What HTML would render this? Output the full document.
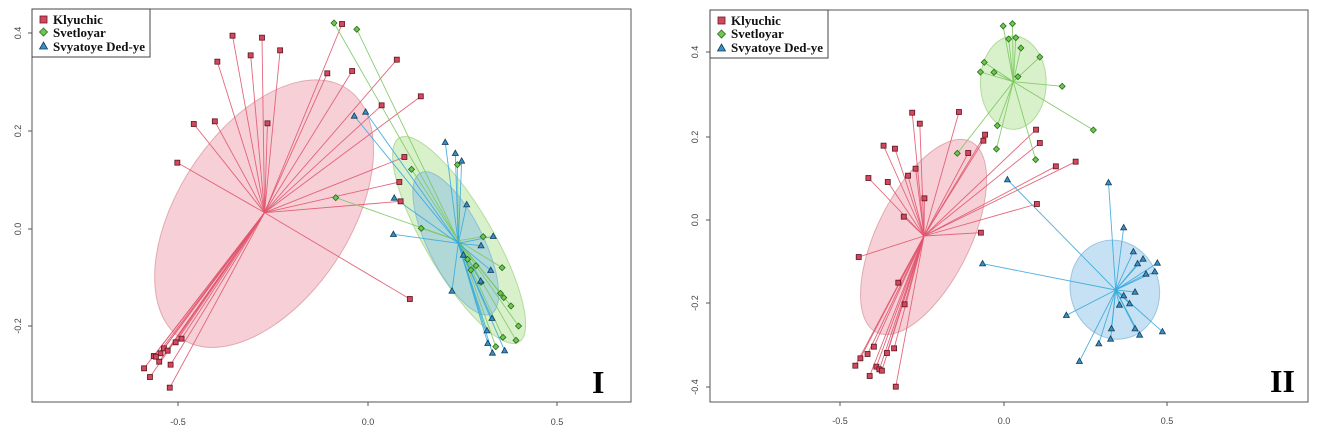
<!DOCTYPE html>
<html><head><meta charset="utf-8"><style>
html,body{margin:0;padding:0;background:#fff;}
svg{display:block;}
.tk{font-family:"Liberation Sans",sans-serif;font-size:9px;fill:#444;}
.lg{font-family:"Liberation Serif",serif;font-size:13px;font-weight:bold;fill:#111;}
.big{font-family:"Liberation Serif",serif;font-size:32px;font-weight:bold;fill:#000;}
</style></head><body>
<svg id="s" width="1334" height="434" viewBox="0 0 1334 434" xmlns="http://www.w3.org/2000/svg">
<rect width="1334" height="434" fill="#fff"/>
<g transform="translate(0,0) scale(0.42123,0.33333)">
<ellipse cx="627" cy="641" rx="427" ry="215" transform="rotate(-66.7 627 641)" fill="rgba(240,170,182,0.55)" stroke="rgba(210,130,140,0.6)" vector-effect="non-scaling-stroke"/>
<ellipse cx="1090" cy="720" rx="338" ry="84" transform="rotate(65.9 1090 720)" fill="rgba(185,230,160,0.55)" stroke="rgba(140,200,110,0.6)" vector-effect="non-scaling-stroke"/>
<ellipse cx="1082" cy="730" rx="228" ry="68" transform="rotate(69.6 1082 730)" fill="rgba(140,195,225,0.55)" stroke="rgba(110,170,210,0.6)" vector-effect="non-scaling-stroke"/>
</g>
<g transform="translate(670,0) scale(0.42123,0.33333)">
<ellipse cx="602" cy="711" rx="308" ry="115" transform="rotate(-70.4 602 711)" fill="rgba(240,170,182,0.55)" stroke="rgba(210,130,140,0.6)" vector-effect="non-scaling-stroke"/>
<ellipse cx="815" cy="248" rx="78" ry="140" fill="rgba(185,230,160,0.55)" stroke="rgba(140,200,110,0.6)" vector-effect="non-scaling-stroke"/>
<ellipse cx="1056" cy="869" rx="106" ry="149" transform="rotate(-5 1056 869)" fill="rgba(160,205,235,0.6)" stroke="rgba(110,170,210,0.6)" vector-effect="non-scaling-stroke"/>
</g>
<g id="lines"></g>
<g id="pts"></g>
<!-- axes I -->
<rect x="32" y="9" width="599" height="393" fill="none" stroke="#555" stroke-width="1"/>
<g stroke="#555"><line x1="178" y1="402" x2="178" y2="406"/><line x1="368" y1="402" x2="368" y2="406"/><line x1="557" y1="402" x2="557" y2="406"/>
<line x1="28" y1="33" x2="32" y2="33"/><line x1="28" y1="131" x2="32" y2="131"/><line x1="28" y1="229" x2="32" y2="229"/><line x1="28" y1="326" x2="32" y2="326"/></g>
<text class="tk" x="178" y="425" text-anchor="middle">-0.5</text>
<text class="tk" x="368" y="425" text-anchor="middle">0.0</text>
<text class="tk" x="557" y="425" text-anchor="middle">0.5</text>
<text class="tk" transform="translate(21,33) rotate(-90)" text-anchor="middle">0.4</text>
<text class="tk" transform="translate(21,131) rotate(-90)" text-anchor="middle">0.2</text>
<text class="tk" transform="translate(21,229) rotate(-90)" text-anchor="middle">0.0</text>
<text class="tk" transform="translate(21,326) rotate(-90)" text-anchor="middle">-0.2</text>
<rect x="32" y="9" width="118" height="48" fill="#fff" stroke="#444"/>
<rect x="40" y="16" width="7" height="7" fill="#d4485e" stroke="#6a1a26" stroke-width="0.8"/>
<path d="M43.5 28 L47.5 32 L43.5 36 L39.5 32 Z" fill="#6cc850" stroke="#2a6a1a" stroke-width="0.8"/>
<path d="M43.5 42 L47.5 49 L39.5 49 Z" fill="#3a8fc4" stroke="#123e5a" stroke-width="0.8"/>
<text class="lg" x="53" y="24">Klyuchic</text>
<text class="lg" x="53" y="37">Svetloyar</text>
<text class="lg" x="53" y="51">Svyatoye Ded-ye</text>
<text class="big" x="592" y="393">I</text>
<!-- axes II -->
<rect x="710" y="10" width="598" height="392" fill="none" stroke="#555" stroke-width="1"/>
<g stroke="#555"><line x1="840" y1="402" x2="840" y2="406"/><line x1="1004" y1="402" x2="1004" y2="406"/><line x1="1167" y1="402" x2="1167" y2="406"/>
<line x1="706" y1="52" x2="710" y2="52"/><line x1="706" y1="137" x2="710" y2="137"/><line x1="706" y1="220" x2="710" y2="220"/><line x1="706" y1="303" x2="710" y2="303"/><line x1="706" y1="387" x2="710" y2="387"/></g>
<text class="tk" x="840" y="424" text-anchor="middle">-0.5</text>
<text class="tk" x="1004" y="424" text-anchor="middle">0.0</text>
<text class="tk" x="1167" y="424" text-anchor="middle">0.5</text>
<text class="tk" transform="translate(698,52) rotate(-90)" text-anchor="middle">0.4</text>
<text class="tk" transform="translate(698,137) rotate(-90)" text-anchor="middle">0.2</text>
<text class="tk" transform="translate(698,220) rotate(-90)" text-anchor="middle">0.0</text>
<text class="tk" transform="translate(698,303) rotate(-90)" text-anchor="middle">-0.2</text>
<text class="tk" transform="translate(698,387) rotate(-90)" text-anchor="middle">-0.4</text>
<rect x="710" y="10" width="118" height="48" fill="#fff" stroke="#444"/>
<rect x="718" y="17" width="7" height="7" fill="#d4485e" stroke="#6a1a26" stroke-width="0.8"/>
<path d="M721.5 30 L725.5 34 L721.5 38 L717.5 34 Z" fill="#6cc850" stroke="#2a6a1a" stroke-width="0.8"/>
<path d="M721.5 44 L725.5 51 L717.5 51 Z" fill="#3a8fc4" stroke="#123e5a" stroke-width="0.8"/>
<text class="lg" x="731" y="25">Klyuchic</text>
<text class="lg" x="731" y="38">Svetloyar</text>
<text class="lg" x="731" y="52">Svyatoye Ded-ye</text>
<text class="big" x="1270" y="392">II</text>
</svg>
<script>
var NS="http://www.w3.org/2000/svg";
var L=document.getElementById("lines"),P=document.getElementById("pts");
var SX=1/2.374,SY=1/3;
function el(t,a,p){var e=document.createElementNS(NS,t);for(var k in a)e.setAttribute(k,a[k]);p.appendChild(e);return e;}
function grp(ox,c,pts,type){
 var cx=c[0]*SX+ox,cy=c[1]*SY;
 var lc={r:"#e0566e",g:"#7cc860",b:"#3aa8dc"}[type];
 pts.forEach(function(p){var x=p[0]*SX+ox,y=p[1]*SY;
  el("line",{x1:cx,y1:cy,x2:x,y2:y,stroke:lc,"stroke-width":0.9,"stroke-opacity":0.9},L);
  if(type=="r")el("rect",{x:x-2.5,y:y-2.5,width:5,height:5,fill:"#d4485e",stroke:"#5a1520","stroke-width":0.8},P);
  else if(type=="g")el("path",{d:"M"+x+" "+(y-3)+"L"+(x+3)+" "+y+"L"+x+" "+(y+3)+"L"+(x-3)+" "+y+"Z",fill:"#6cc850",stroke:"#2a6a1a","stroke-width":0.8},P);
  else el("path",{d:"M"+x+" "+(y-3.2)+"L"+(x+3)+" "+(y+2.2)+"L"+(x-3)+" "+(y+2.2)+"Z",fill:"#3a8fc4",stroke:"#123e5a","stroke-width":0.8},P);
 });
}
grp(0,[628,638],[[812,72],[552,107],[622,113],[665,151],[595,166],[516,185],[942,179],[777,220],[836,213],[999,289],[906,316],[460,372],[510,364],[635,370],[421,488],[960,471],[948,546],[951,604],[973,897],[365,1068],[381,1060],[389,1045],[398,1052],[417,1027],[431,1016],[342,1105],[378,1085],[356,1131],[405,1094],[403,1163],[370,1070]],"r");
grp(0,[1088,722],[[793,69],[847,88],[977,508],[1086,494],[797,593],[1000,685],[1147,710],[1192,803],[1188,880],[1196,893],[1213,918],[1231,978],[1194,1012],[1225,1021],[1177,1040],[1130,797],[1110,778],[1142,847],[1118,810]],"g");
grp(0,[1088,730],[[841,348],[868,336],[1057,427],[1081,460],[1096,483],[1108,614],[936,594],[934,703],[1171,709],[1142,737],[1165,811],[1141,843],[1073,873],[1168,955],[1156,992],[1158,1030],[1169,1059],[1198,1052],[1100,765]],"b");
grp(670,[603,708],[[575,338],[686,336],[593,371],[748,404],[744,422],[869,389],[878,429],[507,437],[534,446],[708,459],[916,499],[963,485],[471,534],[517,546],[565,527],[583,506],[604,595],[555,650],[871,612],[738,698],[448,771],[542,848],[557,913],[532,1045],[515,1059],[484,1040],[469,1062],[452,1075],[440,1097],[490,1100],[497,1108],[503,1112],[474,1128],[536,1160]],"r");
grp(670,[815,245],[[791,78],[813,71],[804,117],[821,113],[833,144],[878,171],[746,187],[737,216],[769,217],[826,230],[931,259],[1005,390],[777,377],[775,447],[868,479],[682,460]],"g");
grp(670,[1058,870],[[801,539],[1041,548],[1077,683],[742,791],[1100,755],[1123,777],[1110,791],[1157,789],[1151,815],[1130,822],[1104,876],[1077,887],[1091,911],[1067,915],[941,946],[1169,995],[1048,986],[1104,986],[1115,1005],[1018,1031],[1046,1017],[972,1084]],"b");
</script>
</body></html>
